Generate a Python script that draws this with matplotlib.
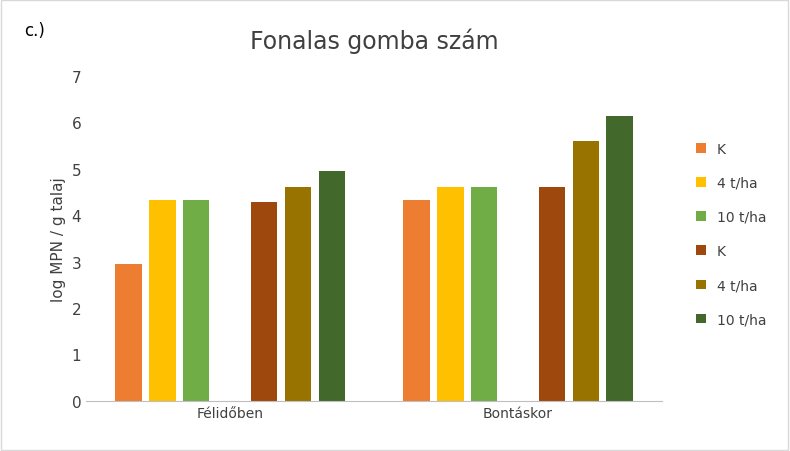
import numpy as np
import matplotlib.pyplot as plt

categories = ["Félidőben", "Bontáskor"]
series_labels = ["K", "4 t/ha", "10 t/ha", "K", "4 t/ha", "10 t/ha"]
values = [
    [2.95, 4.33],
    [4.33, 4.61],
    [4.33, 4.61],
    [4.29, 4.61],
    [4.61, 5.60],
    [4.94, 6.14],
]
colors = ["#ED7D31", "#FFC000", "#70AD47", "#9E480E", "#997300", "#43682B"]

fig = plt.figure(figsize=(7.9, 4.52), dpi=100)
ax = fig.add_axes([0.109, 0.111, 0.729, 0.719])

x = np.arange(len(categories))
slot = 1 / 8.5
offsets = [-3, -2, -1, 1, 2, 3]
for off, vals, col, lab in zip(offsets, values, colors, series_labels):
    ax.bar(x + off * slot, vals, width=slot * 0.78, color=col, label=lab)

ax.set_xlim(-0.5, 1.5)
ax.set_ylim(0, 7)
ax.set_xticks(x)
ax.set_xticklabels(categories, fontsize=10, color="#404040")
ax.tick_params(axis="y", labelsize=11, colors="#404040", length=0)
ax.tick_params(axis="x", length=0)
for s in ["top", "right", "left"]:
    ax.spines[s].set_visible(False)
ax.spines["bottom"].set_color("#BFBFBF")
ax.set_ylabel("log MPN / g talaj", fontsize=11, color="#404040")
ax.set_title("Fonalas gomba szám", fontsize=17, color="#404040", pad=20)

fig.legend(loc="center left", bbox_to_anchor=(0.865, 0.48), frameon=False,
           fontsize=10, handlelength=0.7, handleheight=0.7, labelspacing=1.45,
           labelcolor="#404040")
fig.text(0.03, 0.92, "c.)", fontsize=12)
fig.patches.append(plt.Rectangle((0.001, 0.002), 0.997, 0.995, transform=fig.transFigure,
                                 fill=False, edgecolor="#D9D9D9", lw=1))

fig.savefig("out.png", dpi=100)
